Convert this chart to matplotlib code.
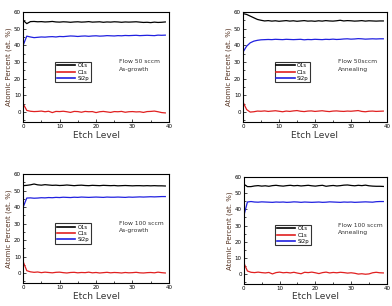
import numpy as np
import matplotlib.pyplot as plt
from matplotlib.ticker import MultipleLocator

etch = list(range(40))

# Flow 50 sccm, as-growth
o1s_50g = [55.0, 53.0, 54.2, 54.3, 54.1, 54.2, 54.0, 54.1, 54.3, 54.0, 53.9, 54.1, 54.0, 53.8, 54.0, 54.1, 53.9, 54.0, 54.2, 53.9,
           54.0, 54.1, 53.8, 54.0, 53.9, 54.1, 54.0, 53.8, 54.0, 53.9, 54.0, 54.1, 53.9, 53.7, 53.8, 53.6, 53.9, 53.7, 53.8, 54.0]
c1s_50g = [5.0, 1.0, 0.5, 0.3, 0.4, 0.6, 0.2, 0.5, -0.3, 0.4, 0.3, 0.5, 0.2, -0.2, 0.4, 0.3, -0.1, 0.4, 0.2, 0.3,
           -0.3, 0.2, 0.4, 0.1, -0.2, 0.3, 0.2, 0.4, -0.1, 0.2, 0.3, 0.1, 0.2, -0.2, 0.3, 0.4, 0.6, 0.2, -0.3, -0.5]
si2p_50g = [40.0, 45.5, 45.0, 44.6, 44.8, 45.0, 44.9, 45.1, 45.2, 45.0, 45.3, 45.2, 45.4, 45.6, 45.5, 45.3, 45.5, 45.6, 45.4, 45.6,
            45.7, 45.5, 45.6, 45.8, 45.7, 45.6, 45.8, 45.7, 45.9, 45.8, 45.9, 46.0, 45.8, 45.9, 46.0, 45.9, 45.8, 46.1, 46.0, 46.1]

# Flow 50 sccm, annealing
o1s_50a = [59.0, 58.5, 57.5, 56.5, 55.5, 55.0, 54.6, 54.8, 54.5, 54.7, 54.4, 54.6, 54.8, 54.5, 54.7, 54.4, 54.6, 54.8, 54.5, 54.6,
           54.4, 54.7, 54.5, 54.8, 54.6, 54.5, 54.7, 55.0, 54.6, 54.8, 54.7, 54.5, 54.6, 54.8, 54.5, 54.7, 54.6, 54.5, 54.6, 54.6]
c1s_50a = [6.0, 1.5, 0.0, 0.2, 0.6, 0.5, 0.7, 0.4, 0.6, 0.8, 0.5, 0.2, 0.6, 0.4, 0.7, 0.9, 0.5, 0.3, 0.6, 0.7,
           0.4, 0.6, 0.8, 0.5, 0.3, 0.6, 0.7, 0.5, 0.4, 0.6, 0.5, 0.7, 0.9, 0.4, 0.2, 0.5, 0.6, 0.4, 0.5, 0.6]
si2p_50a = [36.0, 39.5, 41.5, 42.5, 43.0, 43.3, 43.4, 43.5, 43.4, 43.6, 43.5, 43.4, 43.6, 43.5, 43.4, 43.5, 43.6, 43.3, 43.5, 43.4,
            43.6, 43.5, 43.4, 43.6, 43.5, 43.7, 43.5, 43.6, 43.8, 43.9, 43.7, 43.8, 44.0, 43.9, 43.7, 43.8, 43.9, 43.8, 43.9, 43.9]

# Flow 100 sccm, as-growth
o1s_100g = [53.0, 53.2, 53.5, 54.0, 53.5, 53.3, 53.6, 53.4, 53.2, 53.3, 53.1, 53.2, 53.4, 53.2, 53.0, 53.2, 53.3, 53.1, 53.0, 53.2,
            53.1, 53.0, 53.2, 53.1, 53.0, 53.1, 52.9, 53.0, 53.1, 53.0, 52.9, 53.0, 53.0, 52.9, 53.0, 52.9, 53.0, 52.9, 52.9, 52.8]
c1s_100g = [7.0, 1.5, 0.8, 0.5, 0.7, 0.3, 0.6, 0.4, 0.2, 0.5, 0.6, 0.3, 0.1, 0.4, 0.5, 0.2, 0.4, 0.3, 0.6, 0.2,
            0.4, 0.1, 0.3, 0.5, 0.2, 0.4, 0.3, 0.1, 0.4, 0.2, 0.3, 0.5, 0.2, 0.1, 0.3, 0.4, 0.2, 0.6, 0.3, 0.1]
si2p_100g = [40.0, 45.5, 45.6, 45.4, 45.5, 45.7, 45.6, 45.8, 45.7, 45.9, 45.8, 46.0, 45.9, 45.8, 46.0, 45.9, 46.1, 46.0, 45.9, 46.0,
             46.1, 46.0, 45.9, 46.1, 46.0, 46.0, 46.1, 46.0, 45.9, 46.1, 46.0, 46.1, 46.2, 46.1, 46.2, 46.3, 46.2, 46.3, 46.4, 46.4]

# Flow 100 sccm, annealing
o1s_100a = [55.5, 54.0, 54.0, 54.4, 54.6, 54.3, 54.5, 54.2, 54.6, 54.8, 54.5, 54.3, 54.6, 54.8, 54.5, 54.7, 54.4, 54.6, 54.8, 54.5,
            54.3, 54.6, 54.8, 54.2, 54.5, 54.7, 54.4, 54.6, 54.9, 55.0, 54.7, 54.5, 54.8, 54.6, 54.9, 54.5, 54.3, 54.2, 54.2, 54.1]
c1s_100a = [7.0, 2.0, 1.2, 1.0, 1.3, 1.0, 0.8, 1.1, 0.2, 1.0, 1.3, 0.9, 1.1, 0.8, 1.2, 0.7, 0.3, 1.2, 1.0, 1.3,
            0.9, 0.4, 1.0, 1.3, 0.8, 1.1, 0.9, 1.2, 1.0, 0.7, 0.9, 0.6, 0.1, 0.3, 0.0, 0.2, 0.9, 1.2, 0.9, 0.8]
si2p_100a = [36.0, 44.5, 44.8, 44.5, 44.4, 44.6, 44.5, 44.4, 44.3, 44.5, 44.4, 44.5, 44.3, 44.4, 44.6, 44.5, 44.3, 44.5, 44.4, 44.3,
             44.4, 44.5, 44.3, 44.4, 44.6, 44.5, 44.4, 44.3, 44.5, 44.4, 44.5, 44.3, 44.4, 44.5, 44.6, 44.5, 44.4, 44.7, 44.8, 44.8]

paineis = [
    ([0.059, 0.601, 0.372, 0.360], o1s_50g, c1s_50g, si2p_50g, "Flow 50 sccm\nAs-growth"),
    ([0.620, 0.601, 0.367, 0.360], o1s_50a, c1s_50a, si2p_50a, "Flow 50sccm\nAnnealing"),
    ([0.059, 0.075, 0.372, 0.356], o1s_100g, c1s_100g, si2p_100g, "Flow 100 sccm\nAs-growth"),
    ([0.622, 0.072, 0.365, 0.350], o1s_100a, c1s_100a, si2p_100a, "Flow 100 sccm\nAnnealing"),
]

fig = plt.figure(figsize=(3.92, 3.06), dpi=100)

for pos, o1s, c1s, si2p, texto in paineis:
    ax = fig.add_axes(pos)
    ax.plot(etch, o1s, color='black', lw=0.9, label='O1s')
    ax.plot(etch, c1s, color='#e02020', lw=0.9, label='C1s')
    ax.plot(etch, si2p, color='#2020e0', lw=0.9, label='Si2p')
    ax.set_xlim(0, 40)
    ax.set_ylim(-6, 60)
    ax.xaxis.set_major_locator(MultipleLocator(10))
    ax.xaxis.set_minor_locator(MultipleLocator(5))
    ax.yaxis.set_major_locator(MultipleLocator(10))
    ax.yaxis.set_minor_locator(MultipleLocator(5))
    ax.tick_params(which='both', direction='in', labelsize=4, pad=1.5, width=0.5)
    ax.tick_params(which='major', length=2.5)
    ax.tick_params(which='minor', length=1.5)
    for s in ax.spines.values():
        s.set_linewidth(0.8)
    ax.set_xlabel("Etch Level", fontsize=6.5, labelpad=1, color='#333333')
    ax.set_ylabel("Atomic Percent (at. %)", fontsize=5, labelpad=1.5, color='#553322')
    leg = ax.legend(loc='lower left', bbox_to_anchor=(0.22, 0.36), fontsize=3.8, frameon=True,
                    fancybox=False, edgecolor='black', handlelength=3.5, borderpad=0.3,
                    labelspacing=0.25, handletextpad=0.4, borderaxespad=0)
    leg.get_frame().set_linewidth(0.8)
    for linha in leg.get_lines():
        linha.set_linewidth(1.2)
    ax.text(0.66, 0.57, texto, transform=ax.transAxes, fontsize=4.3, va='top', linespacing=1.6, color='#333333')

plt.savefig("out.png", dpi=100)
